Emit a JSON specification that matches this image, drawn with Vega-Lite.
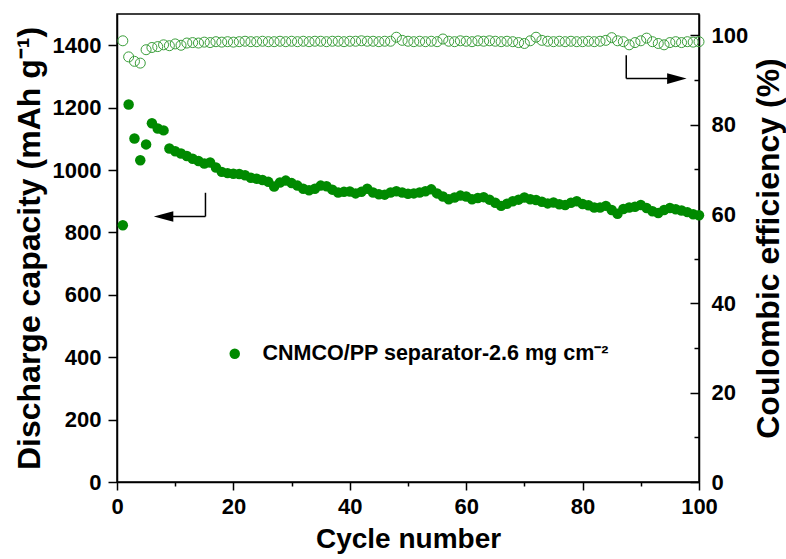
{
  "$schema": "https://vega.github.io/schema/vega-lite/v6.json",
  "width": 582,
  "height": 468,
  "autosize": {"type": "none"},
  "padding": {"left": 117, "top": 14, "right": 87, "bottom": 77},
  "background": "white",
  "config": {
    "view": {"stroke": "black", "strokeWidth": 1.5},
    "font": "Liberation Sans",
    "style": {
      "guide-label": {"font": "Liberation Sans", "fontWeight": "bold", "fontSize": 22, "fill": "black"},
      "guide-title": {"font": "Liberation Sans", "fontWeight": "bold", "fill": "black"}
    },
    "axis": {
      "grid": false,
      "domainColor": "black",
      "domainWidth": 1.5,
      "tickColor": "black",
      "tickWidth": 1.5,
      "labelColor": "black",
      "titleColor": "black",
      "labelFont": "Liberation Sans",
      "titleFont": "Liberation Sans",
      "labelFontWeight": "bold",
      "titleFontWeight": "bold",
      "labelFontSize": 22
    }
  },
  "data": {
    "values": [
      {"cycle": 1, "capacity": 823, "ce": 98.8},
      {"cycle": 2, "capacity": 1210, "ce": 95.2},
      {"cycle": 3, "capacity": 1101, "ce": 94.2},
      {"cycle": 4, "capacity": 1031, "ce": 93.8},
      {"cycle": 5, "capacity": 1082, "ce": 96.8},
      {"cycle": 6, "capacity": 1150, "ce": 97.3},
      {"cycle": 7, "capacity": 1133, "ce": 97.5},
      {"cycle": 8, "capacity": 1127, "ce": 97.9},
      {"cycle": 9, "capacity": 1069, "ce": 97.7},
      {"cycle": 10, "capacity": 1060, "ce": 98.1},
      {"cycle": 11, "capacity": 1053, "ce": 97.8},
      {"cycle": 12, "capacity": 1045, "ce": 98.3},
      {"cycle": 13, "capacity": 1036, "ce": 98.4},
      {"cycle": 14, "capacity": 1029, "ce": 98.3},
      {"cycle": 15, "capacity": 1021, "ce": 98.5},
      {"cycle": 16, "capacity": 1024, "ce": 98.4},
      {"cycle": 17, "capacity": 1008, "ce": 98.6},
      {"cycle": 18, "capacity": 994, "ce": 98.5},
      {"cycle": 19, "capacity": 990, "ce": 98.6},
      {"cycle": 20, "capacity": 988, "ce": 98.5},
      {"cycle": 21, "capacity": 987, "ce": 98.6},
      {"cycle": 22, "capacity": 983, "ce": 98.7},
      {"cycle": 23, "capacity": 975, "ce": 98.6},
      {"cycle": 24, "capacity": 972, "ce": 98.6},
      {"cycle": 25, "capacity": 968, "ce": 98.7},
      {"cycle": 26, "capacity": 962, "ce": 98.6},
      {"cycle": 27, "capacity": 947, "ce": 98.6},
      {"cycle": 28, "capacity": 960, "ce": 98.7},
      {"cycle": 29, "capacity": 966, "ce": 98.6},
      {"cycle": 30, "capacity": 958, "ce": 98.7},
      {"cycle": 31, "capacity": 950, "ce": 98.6},
      {"cycle": 32, "capacity": 940, "ce": 98.7},
      {"cycle": 33, "capacity": 935, "ce": 98.6},
      {"cycle": 34, "capacity": 940, "ce": 98.7},
      {"cycle": 35, "capacity": 950, "ce": 98.7},
      {"cycle": 36, "capacity": 948, "ce": 98.6},
      {"cycle": 37, "capacity": 937, "ce": 98.7},
      {"cycle": 38, "capacity": 928, "ce": 98.7},
      {"cycle": 39, "capacity": 930, "ce": 98.6},
      {"cycle": 40, "capacity": 931, "ce": 98.7},
      {"cycle": 41, "capacity": 925, "ce": 98.7},
      {"cycle": 42, "capacity": 930, "ce": 98.8},
      {"cycle": 43, "capacity": 940, "ce": 98.7},
      {"cycle": 44, "capacity": 928, "ce": 98.7},
      {"cycle": 45, "capacity": 922, "ce": 98.6},
      {"cycle": 46, "capacity": 921, "ce": 98.7},
      {"cycle": 47, "capacity": 928, "ce": 98.7},
      {"cycle": 48, "capacity": 932, "ce": 99.6},
      {"cycle": 49, "capacity": 928, "ce": 98.9},
      {"cycle": 50, "capacity": 924, "ce": 98.7},
      {"cycle": 51, "capacity": 925, "ce": 98.6},
      {"cycle": 52, "capacity": 928, "ce": 98.7},
      {"cycle": 53, "capacity": 932, "ce": 98.6},
      {"cycle": 54, "capacity": 938, "ce": 98.7},
      {"cycle": 55, "capacity": 925, "ce": 98.6},
      {"cycle": 56, "capacity": 915, "ce": 99.2},
      {"cycle": 57, "capacity": 906, "ce": 98.7},
      {"cycle": 58, "capacity": 912, "ce": 98.6},
      {"cycle": 59, "capacity": 918, "ce": 98.8},
      {"cycle": 60, "capacity": 915, "ce": 98.7},
      {"cycle": 61, "capacity": 906, "ce": 98.6},
      {"cycle": 62, "capacity": 910, "ce": 98.8},
      {"cycle": 63, "capacity": 913, "ce": 98.7},
      {"cycle": 64, "capacity": 905, "ce": 98.8},
      {"cycle": 65, "capacity": 895, "ce": 98.7},
      {"cycle": 66, "capacity": 885, "ce": 98.6},
      {"cycle": 67, "capacity": 892, "ce": 98.7},
      {"cycle": 68, "capacity": 900, "ce": 98.6},
      {"cycle": 69, "capacity": 905, "ce": 98.4},
      {"cycle": 70, "capacity": 912, "ce": 98.2},
      {"cycle": 71, "capacity": 906, "ce": 98.8},
      {"cycle": 72, "capacity": 904, "ce": 99.6},
      {"cycle": 73, "capacity": 898, "ce": 98.9},
      {"cycle": 74, "capacity": 893, "ce": 98.7},
      {"cycle": 75, "capacity": 896, "ce": 98.6},
      {"cycle": 76, "capacity": 890, "ce": 98.7},
      {"cycle": 77, "capacity": 888, "ce": 98.6},
      {"cycle": 78, "capacity": 895, "ce": 98.7},
      {"cycle": 79, "capacity": 900, "ce": 98.6},
      {"cycle": 80, "capacity": 891, "ce": 98.6},
      {"cycle": 81, "capacity": 887, "ce": 98.7},
      {"cycle": 82, "capacity": 880, "ce": 98.6},
      {"cycle": 83, "capacity": 880, "ce": 98.7},
      {"cycle": 84, "capacity": 885, "ce": 98.9},
      {"cycle": 85, "capacity": 872, "ce": 99.5},
      {"cycle": 86, "capacity": 860, "ce": 98.8},
      {"cycle": 87, "capacity": 875, "ce": 98.6},
      {"cycle": 88, "capacity": 880, "ce": 97.9},
      {"cycle": 89, "capacity": 882, "ce": 98.4},
      {"cycle": 90, "capacity": 888, "ce": 98.8},
      {"cycle": 91, "capacity": 878, "ce": 99.4},
      {"cycle": 92, "capacity": 868, "ce": 98.6},
      {"cycle": 93, "capacity": 862, "ce": 98.2},
      {"cycle": 94, "capacity": 872, "ce": 97.9},
      {"cycle": 95, "capacity": 878, "ce": 98.4},
      {"cycle": 96, "capacity": 874, "ce": 98.6},
      {"cycle": 97, "capacity": 870, "ce": 98.4},
      {"cycle": 98, "capacity": 865, "ce": 98.6},
      {"cycle": 99, "capacity": 858, "ce": 98.5},
      {"cycle": 100, "capacity": 855, "ce": 98.6}
    ]
  },
  "encoding": {
    "x": {
      "field": "cycle",
      "type": "quantitative",
      "scale": {"domain": [0, 100], "nice": false},
      "axis": {
        "title": "Cycle number",
        "titleFontSize": 28,
        "titlePadding": 8,
        "values": [0, 10, 20, 30, 40, 50, 60, 70, 80, 90, 100],
        "format": "d",
        "labelExpr": "datum.value % 20 === 0 ? datum.label : ''",
        "labelFontSize": 22,
        "labelFontWeight": "bold",
        "tickSize": {"condition": {"test": "datum.value % 20 === 0", "value": 8}, "value": 4},
        "labelPadding": 6,
        "labelFlush": false,
        "encode": {"labels": {"update": {"fontWeight": {"value": "bold"}}}}
      }
    }
  },
  "layer": [
    {
      "layer": [
        {
          "mark": {"type": "point", "filled": true, "opacity": 1, "size": 110},
          "encoding": {
            "y": {
              "field": "capacity",
              "type": "quantitative",
              "scale": {"domain": [0, 1500], "nice": false},
              "axis": {
                "title": "Discharge capacity (mAh g⁻¹)",
                "titleFontSize": 32,
                "titlePadding": 6,
                "values": [0, 100, 200, 300, 400, 500, 600, 700, 800, 900, 1000, 1100, 1200, 1300, 1400],
                "format": "d",
                "labelExpr": "datum.value % 200 === 0 ? datum.label : ''",
                "labelFontSize": 22,
                "labelFontWeight": "bold",
                "tickSize": {"condition": {"test": "datum.value % 200 === 0", "value": 9}, "value": 4},
                "labelPadding": 7,
                "labelFlush": false,
                "encode": {"labels": {"update": {"fontWeight": {"value": "bold"}}}}
              }
            },
            "color": {
              "datum": "CNMCO/PP separator-2.6 mg cm⁻²",
              "type": "nominal",
              "scale": {"range": ["#008a00"]},
              "legend": {
                "title": null,
                "orient": "none",
                "legendX": 107,
                "legendY": 329,
                "padding": 0,
                "symbolType": "circle",
                "symbolSize": 110,
                "symbolStrokeWidth": 0,
                "labelOffset": 17,
                "labelFont": "Liberation Sans",
                "labelFontSize": 21.5,
                "labelFontWeight": "bold",
                "labelColor": "black",
                "labelLimit": 0
              }
            }
          }
        },
        {
          "transform": [{"filter": "datum.cycle === 1"}],
          "mark": {"type": "rule", "color": "black", "strokeWidth": 1.5},
          "encoding": {
            "x": {"datum": 15.2, "type": "quantitative"},
            "y": {"datum": 927, "type": "quantitative"},
            "y2": {"datum": 851}
          }
        },
        {
          "transform": [{"filter": "datum.cycle === 1"}],
          "mark": {"type": "rule", "color": "black", "strokeWidth": 1.5},
          "encoding": {
            "x": {"datum": 15.2, "type": "quantitative"},
            "x2": {"datum": 8.5},
            "y": {"datum": 851, "type": "quantitative"}
          }
        },
        {
          "transform": [{"filter": "datum.cycle === 1"}],
          "mark": {"type": "point", "shape": "M1,-0.55L-1,0L1,0.55Z", "filled": true, "color": "black", "opacity": 1, "size": 380, "strokeWidth": 0},
          "encoding": {
            "x": {"datum": 8.0, "type": "quantitative"},
            "y": {"datum": 851, "type": "quantitative"}
          }
        },
        {
          "transform": [{"filter": "datum.cycle === 1"}],
          "mark": {"type": "rule", "color": "black", "strokeWidth": 1.5},
          "encoding": {
            "x": {"datum": 87.5, "type": "quantitative"},
            "y": {"datum": 1368, "type": "quantitative"},
            "y2": {"datum": 1293}
          }
        },
        {
          "transform": [{"filter": "datum.cycle === 1"}],
          "mark": {"type": "rule", "color": "black", "strokeWidth": 1.5},
          "encoding": {
            "x": {"datum": 87.5, "type": "quantitative"},
            "x2": {"datum": 95.7},
            "y": {"datum": 1293, "type": "quantitative"}
          }
        },
        {
          "transform": [{"filter": "datum.cycle === 1"}],
          "mark": {"type": "point", "shape": "M-1,-0.55L1,0L-1,0.55Z", "filled": true, "color": "black", "opacity": 1, "size": 380, "strokeWidth": 0},
          "encoding": {
            "x": {"datum": 96.2, "type": "quantitative"},
            "y": {"datum": 1293, "type": "quantitative"}
          }
        }
      ]
    },
    {
      "mark": {"type": "point", "filled": false, "color": "#3a9e3a", "strokeWidth": 1, "opacity": 1, "size": 100},
      "encoding": {
        "y": {
          "field": "ce",
          "type": "quantitative",
          "scale": {"domain": [0, 104.8], "nice": false},
          "axis": {
            "orient": "right",
            "title": "Coulombic efficiency (%)",
            "titleFontSize": 32,
            "titleAngle": 270,
            "titleX": 69,
            "titleY": 234,
            "titleAlign": "center",
            "titleBaseline": "middle",
            "values": [0, 10, 20, 30, 40, 50, 60, 70, 80, 90, 100],
            "format": "d",
            "labelExpr": "datum.value % 20 === 0 ? datum.label : ''",
            "labelFontSize": 22,
            "labelFontWeight": "bold",
            "tickSize": {"condition": {"test": "datum.value % 20 === 0", "value": -9}, "value": -5},
            "labelPadding": 21,
            "labelFlush": false,
            "encode": {"labels": {"update": {"fontWeight": {"value": "bold"}}}}
          }
        }
      }
    }
  ],
  "resolve": {"scale": {"y": "independent"}}
}
